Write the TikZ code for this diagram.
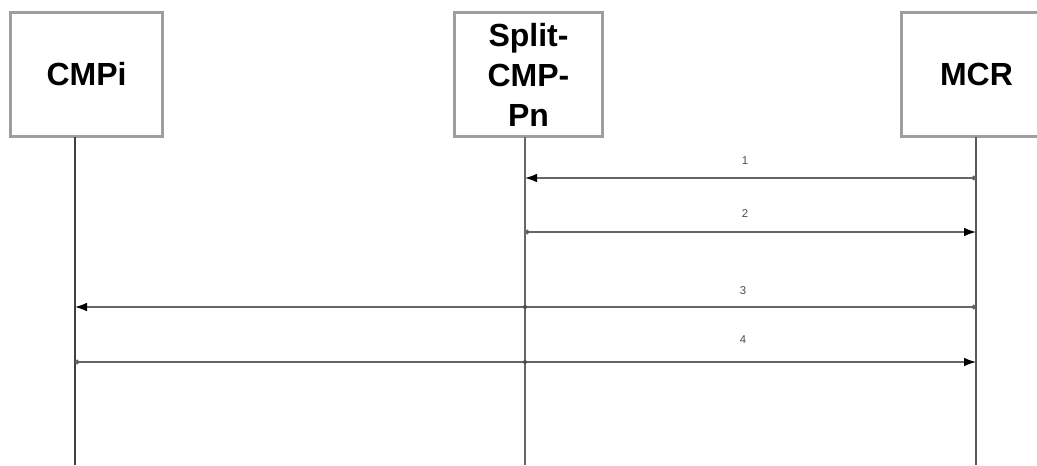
\documentclass[tikz,border=0pt]{standalone}
\usepackage{fontspec}
\setmainfont{Liberation Sans}
\usetikzlibrary{arrows.meta}

\tikzset{
  entity/.style={draw=black!38, line width=2.3pt, fill=white, inner sep=0pt,
    minimum height=93pt, align=center,
    font=\bfseries\fontsize{24}{30}\selectfont},
  lifeline/.style={draw=black!65, line width=0.8pt},
  msg/.style={draw=black!60, line width=1pt,
    {Circle[length=3.5pt,fill=black!75]}-{Latex[length=9pt,width=6.5pt,fill=black,color=black]}},
  num/.style={font=\fontsize{8.5}{10}\selectfont, text=black!70},
}

\begin{document}
\begin{tikzpicture}[x=0.75pt,y=-0.75pt]
    \clip (0,0) rectangle (1037,465);
    \useasboundingbox (0,0) rectangle (1037,465);

    % Entita
    \node[entity, minimum width=114pt] (cmpi) at (86.5,74.5) {CMPi};
    \node[entity, minimum width=111pt] (split) at (528.5,74.5) {Split-\\CMP-\\Pn};
    \node[entity, minimum width=113pt] (mcr) at (976.5,74.5) {MCR};

    % Linee di vita
    \coordinate (cmpitop) at (75,137);
    \coordinate (cmpibot) at (75,465);
    \coordinate (splittop) at (525,137);
    \coordinate (splitbot) at (525,465);
    \coordinate (mcrtop) at (976,137);
    \coordinate (mcrbot) at (976,465);
    \draw[lifeline, line width=1.5pt, draw=black!75] (cmpitop) -- (cmpibot);
    \draw[lifeline, draw=black!60] (splittop) -- (splitbot);
    \draw[lifeline, line width=1.1pt] (mcrtop) -- (mcrbot);

    % Messaggi
    \coordinate (s1) at (525,178);  \coordinate (m1) at (976,178);
    \coordinate (s2) at (525,232);  \coordinate (m2) at (976,232);
    \coordinate (c3) at (75,307);   \coordinate (s3) at (525,307);  \coordinate (m3) at (976,307);
    \coordinate (c4) at (75,362);   \coordinate (s4) at (525,362);  \coordinate (m4) at (976,362);

    \draw[msg] (m1) -- (s1);
    \node[num] (n1) at (745,161) {1};
    \draw[msg] (s2) -- (m2);
    \node[num] (n2) at (745,214) {2};
    \draw[msg] (m3) -- (c3);
    \fill[black!70] (s3) circle (1.5pt);
    \node[num] (n3) at (743,291) {3};
    \draw[msg] (c4) -- (m4);
    \fill[black!70] (s4) circle (1.5pt);
    \node[num] (n4) at (743,340) {4};
\end{tikzpicture}
\end{document}
